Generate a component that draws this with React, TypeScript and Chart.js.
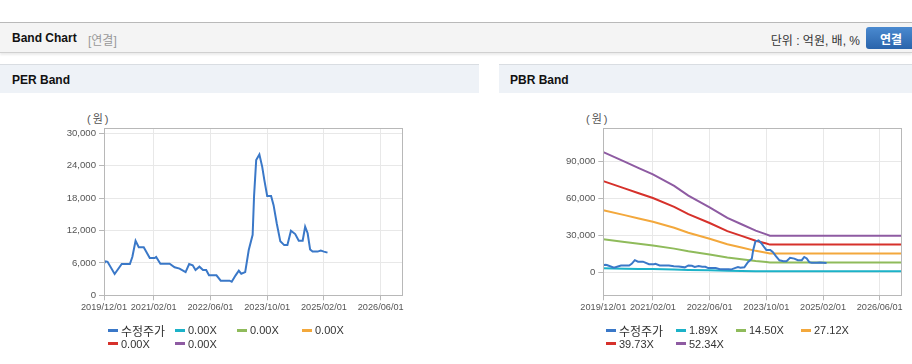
import React, { useEffect, useRef } from "react";
import { Chart, registerables } from "chart.js";

Chart.register(...registerables);

// ---------- data ----------
const tickMonths = [0, 14, 30, 46, 62, 78]; // months since 2019/12/01
const tickLabels = ["2019/12/01", "2021/02/01", "2022/06/01", "2023/10/01", "2025/02/01", "2026/06/01"];

const priceMonths = [
  0, 0.5, 1, 3, 5, 7.3, 8, 8.9, 9.8, 11.2, 12.9, 14.3, 14.7, 15.9, 18.5, 19.9, 21.3, 23, 24, 25,
  25.8, 26.9, 27.9, 28.8, 29.6, 31.7, 32.9, 35.4, 36, 37.1, 38, 38.7, 39.8, 40.8, 41.9, 42.3, 42.9,
  43.8, 44.6, 45.2, 46, 47.1, 47.8, 48.7, 49.7, 50.8, 51.7, 52.7, 53.9, 54.9, 56, 56.7, 57.4, 58.1,
  58.8, 60.2, 61.1, 62, 63,
];
const priceValues = [
  5900, 6300, 6200, 3950, 5800, 5800, 7150, 10100, 8900, 8900, 6900, 6900, 7100, 5850, 5850, 5180,
  4950, 4300, 5800, 5550, 4680, 5300, 4700, 4700, 3700, 3700, 2700, 2700, 2500, 3700, 4550, 4000,
  4300, 8400, 11200, 18400, 25050, 26100, 23800, 21350, 18400, 18400, 16700, 13300, 10000, 9300,
  9300, 11950, 11350, 10100, 10100, 12700, 11500, 8500, 8100, 8100, 8300, 8100, 7900,
];

const bandMonths = [0, 6, 10, 14, 20, 24, 30, 35, 39, 43, 46, 47, 84];
const band1 = [3520, 3240, 3050, 2870, 2530, 2250, 1910, 1600, 1410, 1230, 1120, 1080, 1080];
const band2 = [27000, 24870, 23420, 22010, 19430, 17260, 14650, 12250, 10850, 9430, 8580, 8280, 8280];
const band3 = [50500, 46510, 43800, 41170, 36340, 32270, 27390, 22920, 20290, 17630, 16060, 15490, 15490];
const band4 = [73980, 68140, 64160, 60310, 53240, 47280, 40130, 33570, 29720, 25830, 23520, 22690, 22690];
const band5 = [97460, 89760, 84530, 79450, 70140, 62290, 52860, 44230, 39150, 34020, 30990, 29890, 29890];

const perLegend = ["수정주가", "0.00X", "0.00X", "0.00X", "0.00X", "0.00X"];
const pbrLegend = ["수정주가", "1.89X", "14.50X", "27.12X", "39.73X", "52.34X"];

// ---------- styles ----------
const seriesColors = ["#3a78c8", "#1cb2c8", "#8fbb5b", "#f3a83c", "#d6312b", "#8e5ba2"];
const FONT = '"Liberation Sans", Arial, "Noto Sans CJK KR", sans-serif';
const KFONT = '"Liberation Sans", Arial, "Noto Sans CJK KR", sans-serif';

const toPoints = (xs: number[], ys: number[]) => xs.map((x, i) => ({ x, y: ys[i] }));

const borderPlugin = {
  id: "plotBorder",
  afterDraw(chart: any) {
    const { ctx, chartArea } = chart;
    ctx.save();
    ctx.strokeStyle = "#b8b8b8";
    ctx.lineWidth = 1;
    ctx.strokeRect(
      Math.round(chartArea.left) + 0.5,
      Math.round(chartArea.top) + 0.5,
      Math.round(chartArea.right - chartArea.left),
      Math.round(chartArea.bottom - chartArea.top)
    );
    ctx.restore();
  },
};

type ChartProps = {
  width: number;
  height: number;
  yAxisWidth: number;
  padTop: number;
  padRight: number;
  xAxisHeight: number;
  yMin: number;
  yMax: number;
  yStep: number;
  datasets: any[];
};

function BandCanvas(p: ChartProps) {
  const ref = useRef<HTMLCanvasElement>(null);
  useEffect(() => {
    if (!ref.current) return;
    const chart = new Chart(ref.current, {
      type: "line",
      data: { datasets: p.datasets },
      options: {
        animation: false,
        responsive: false,
        devicePixelRatio: 1,
        layout: { padding: { top: p.padTop, right: p.padRight, left: 0, bottom: 0 } },
        plugins: { legend: { display: false }, tooltip: { enabled: false } },
        elements: { point: { radius: 0 }, line: { tension: 0, borderWidth: 2 } },
        scales: {
          x: {
            type: "linear",
            min: 0,
            max: 84,
            afterBuildTicks: (s: any) => {
              s.ticks = tickMonths.map((v) => ({ value: v }));
            },
            afterFit: (s: any) => {
              s.height = p.xAxisHeight;
            },
            ticks: {
              autoSkip: false,
              maxRotation: 0,
              padding: 2,
              color: "#555",
              font: { family: FONT, size: 9.2 },
              callback: (v: any) => tickLabels[tickMonths.indexOf(Number(v))] ?? "",
            },
            grid: { color: "#e8e8e8", tickColor: "#b8b8b8", tickLength: 5 },
            border: { color: "#b8b8b8" },
          },
          y: {
            type: "linear",
            min: p.yMin,
            max: p.yMax,
            afterBuildTicks: (s: any) => {
              const t: any[] = [];
              for (let v = 0; v <= p.yMax; v += p.yStep) if (v >= p.yMin) t.push({ value: v });
              s.ticks = t;
            },
            afterFit: (s: any) => {
              s.width = p.yAxisWidth;
            },
            ticks: {
              padding: 3,
              color: "#555",
              font: { family: FONT, size: 9.6 },
              callback: (v: any) => Number(v).toLocaleString("en-US"),
            },
            grid: { color: "#e8e8e8", tickColor: "#b8b8b8", tickLength: 5 },
            border: { color: "#b8b8b8" },
          },
        },
      },
      plugins: [borderPlugin],
    });
    return () => chart.destroy();
  }, []);
  return <canvas ref={ref} width={p.width} height={p.height} style={{ display: "block", width: p.width, height: p.height }} />;
}

function Legend({ left, top, labels, offsets }: { left: number; top: number; labels: string[]; offsets: number[] }) {
  return (
    <>
      {labels.map((lab, i) => {
        const col = i % 4;
        const row = Math.floor(i / 4);
        return (
          <div
            key={i}
            style={{
              position: "absolute",
              left: left + offsets[col],
              top: top + row * 13.5 - 7,
              height: 14,
              display: "flex",
              alignItems: "center",
              whiteSpace: "nowrap",
              font: `11px ${KFONT}`,
              color: "#333",
            }}
          >
            <span style={{ display: "inline-block", width: 10, height: 3, background: seriesColors[i], marginRight: 3 }} />
            <span style={{ fontSize: i === 0 ? 12 : 11 }}>{lab}</span>
          </div>
        );
      })}
    </>
  );
}

export default function App() {
  const perDatasets = perLegend.map((lab, i) => ({
    label: lab,
    data: i === 0 ? toPoints(priceMonths, priceValues) : [],
    borderColor: seriesColors[i],
    backgroundColor: seriesColors[i],
    borderWidth: 2,
    pointRadius: 0,
    fill: false,
  }));
  const bands = [band1, band2, band3, band4, band5];
  const pbrDatasets = pbrLegend.map((lab, i) => ({
    label: lab,
    data: i === 0 ? toPoints(priceMonths, priceValues) : toPoints(bandMonths, bands[i - 1]),
    borderColor: seriesColors[i],
    backgroundColor: seriesColors[i],
    borderWidth: 2,
    pointRadius: 0,
    fill: false,
  }));

  const headerText = { position: "absolute" as const, whiteSpace: "nowrap" as const, lineHeight: "16px" };

  return (
    <div
      style={{
        position: "fixed",
        left: 0,
        top: 0,
        width: 912,
        height: 364,
        overflow: "hidden",
        background: "#fff",
        fontFamily: KFONT,
      }}
    >
      {/* top header */}
      <div
        style={{
          position: "absolute",
          left: 0,
          top: 22,
          width: 912,
          height: 29,
          background: "#f4f4f4",
          borderTop: "1px solid #b9b9b9",
          borderBottom: "1px solid #d0d0d0",
          boxShadow: "0 2px 2px rgba(0,0,0,0.08)",
        }}
      />
      <div style={{ ...headerText, left: 12, top: 31, font: `bold 12px ${KFONT}`, color: "#111" }}>Band Chart</div>
      <div style={{ ...headerText, left: 88, top: 31, font: `12px ${KFONT}`, color: "#999" }}>[연결]</div>
      <div style={{ ...headerText, right: 52, top: 31, font: `12px ${KFONT}`, color: "#333" }}>단위 : 억원, 배, %</div>
      <div
        style={{
          position: "absolute",
          left: 866,
          top: 27,
          width: 50,
          height: 22,
          borderRadius: 3,
          background: "linear-gradient(#4a8ad0, #2a64ab)",
          color: "#fff",
          font: `bold 12px ${KFONT}`,
          display: "flex",
          alignItems: "center",
          justifyContent: "center",
        }}
      >
        연결
      </div>

      {/* panel headers */}
      <div style={{ position: "absolute", left: 0, top: 64, width: 479, height: 28, background: "#eef2f7", borderTop: "1px solid #d9dde2" }} />
      <div style={{ position: "absolute", left: 499, top: 64, width: 413, height: 28, background: "#eef2f7", borderTop: "1px solid #d9dde2" }} />
      <div style={{ ...headerText, left: 12, top: 73, font: `bold 12px ${KFONT}`, color: "#111" }}>PER Band</div>
      <div style={{ ...headerText, left: 510, top: 73, font: `bold 12px ${KFONT}`, color: "#111" }}>PBR Band</div>

      {/* unit labels */}
      <div style={{ ...headerText, left: 87, top: 110, font: `11px ${KFONT}`, color: "#555", letterSpacing: 2 }}>(원)</div>
      <div style={{ ...headerText, left: 586, top: 110, font: `11px ${KFONT}`, color: "#555", letterSpacing: 2 }}>(원)</div>

      {/* charts */}
      <div style={{ position: "absolute", left: 0, top: 93 }}>
        <BandCanvas
          width={479}
          height={240}
          yAxisWidth={104}
          padTop={35}
          padRight={77}
          xAxisHeight={37.7}
          yMin={0}
          yMax={31000}
          yStep={6000}
          datasets={perDatasets}
        />
      </div>
      <div style={{ position: "absolute", left: 499, top: 93 }}>
        <BandCanvas
          width={413}
          height={240}
          yAxisWidth={104.3}
          padTop={35.3}
          padRight={11}
          xAxisHeight={37.7}
          yMin={-18300}
          yMax={116700}
          yStep={30000}
          datasets={pbrDatasets}
        />
      </div>

      <Legend left={104} top={330} labels={perLegend} offsets={[4, 71, 133, 198]} />
      <Legend left={603} top={330} labels={pbrLegend} offsets={[3, 73, 133, 198]} />
    </div>
  );
}
